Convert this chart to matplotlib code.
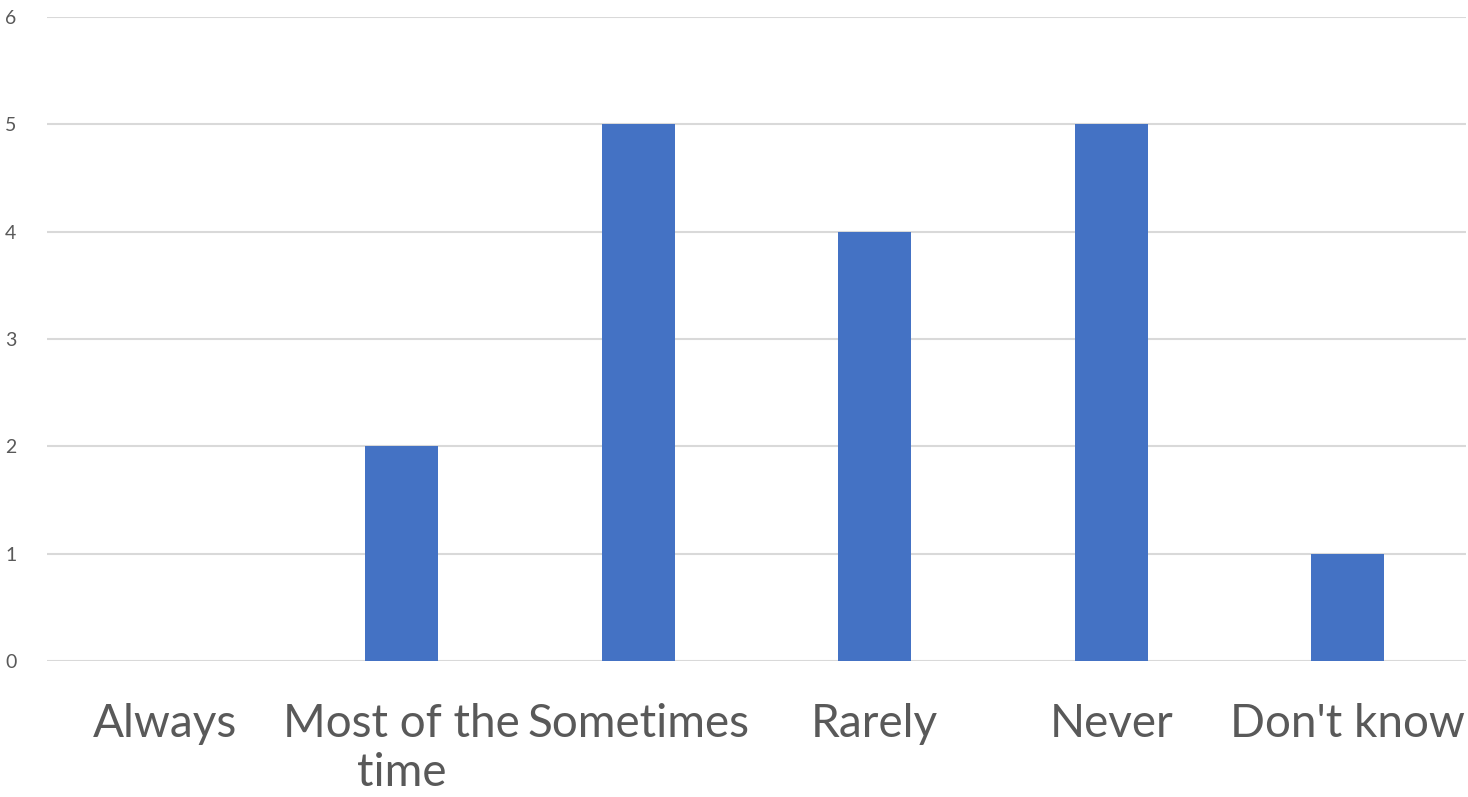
import matplotlib.pyplot as plt

categories = ['Always', 'Most of the\ntime', 'Sometimes', 'Rarely', 'Never', "Don't know"]
counts = [0, 2, 5, 4, 5, 1]

plt.rcParams['font.family'] = ['Lato', 'DejaVu Sans']

fig = plt.figure(figsize=(14.68, 7.97), dpi=100)
ax = fig.add_axes([47 / 1468, 1 - 661 / 797, 1419 / 1468, (661 - 17) / 797])

ax.bar(range(len(categories)), counts, width=0.31, color='#4472C4', zorder=3)

ax.set_xlim(-0.5, len(categories) - 0.5)
ax.set_ylim(0, 6)
ax.set_yticks(range(7))
ax.grid(axis='y', color='#D9D9D9', linewidth=1.5, zorder=0)
for s in ax.spines.values():
    s.set_visible(False)

ax.set_xticks(range(len(categories)))
ax.set_xticklabels(categories, fontsize=33, color='#595959', linespacing=1.22)
ax.tick_params(axis='x', length=0, pad=30)
ax.tick_params(axis='y', length=0, pad=22, labelsize=14, labelcolor='#595959')

fig.savefig('out.png', dpi=100)
